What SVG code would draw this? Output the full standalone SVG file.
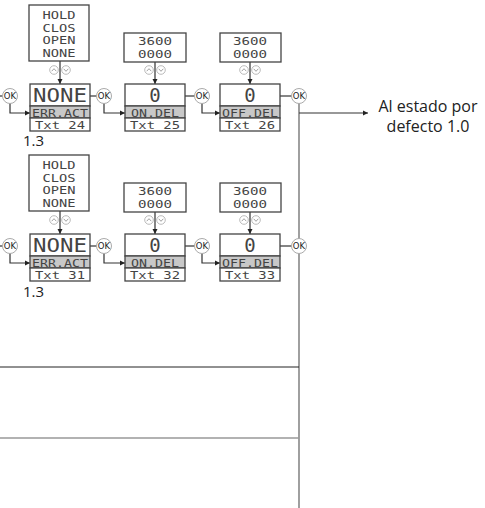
<svg xmlns="http://www.w3.org/2000/svg" width="485" height="508" viewBox="0 0 485 508">
<defs>
<marker id="ah" markerWidth="6" markerHeight="6" refX="5" refY="3" orient="auto" markerUnits="userSpaceOnUse">
<path d="M0,0.5 L5,3 L0,5.5 Z" fill="#222"/>
</marker>
<g id="updn">
<circle cx="-6" cy="0" r="4.3" fill="#fff" stroke="#aaa" stroke-width="0.8"/>
<path d="M-8.3,1.2 L-6,-1.3 L-3.7,1.2" fill="none" stroke="#888" stroke-width="0.8"/>
<circle cx="6" cy="0" r="4.3" fill="#fff" stroke="#aaa" stroke-width="0.8"/>
<path d="M3.7,-1.2 L6,1.3 L8.3,-1.2" fill="none" stroke="#888" stroke-width="0.8"/>
</g>
</defs>
<style>
.bx{fill:#fff;stroke:#444;stroke-width:1.3}
.band{fill:#c8c8c8;stroke:#444;stroke-width:1.3}
.lcd{font-family:"DejaVu Sans Mono",monospace;fill:#444;text-anchor:middle}
.big{font-size:19px}
.sm{font-size:10.5px}
.lbl{font-size:10.5px}
.ok{fill:#fff;stroke:#aaa;stroke-width:1}
.okt{font-family:"DejaVu Sans",sans-serif;font-size:8.5px;fill:#222;text-anchor:middle}
.ln{fill:none;stroke:#333;stroke-width:1.2}
.gl{fill:none;stroke:#888;stroke-width:1.6}
.txt{font-family:"Open Sans","DejaVu Sans",sans-serif;fill:#222}
</style>
<g id="connectors">
<path class="gl" d="M299,103 V508"/>
<path class="ln" d="M0,96 H3"/>
<path class="ln" d="M10,103 V113 H30" marker-end="url(#ah)"/>
<path class="ln" d="M90,96 H97"/>
<path class="ln" d="M104,103 V113 H125" marker-end="url(#ah)"/>
<path class="ln" d="M185,96 H195"/>
<path class="ln" d="M202,103 V113 H220" marker-end="url(#ah)"/>
<path class="ln" d="M280,96 H292"/>
<path class="ln" d="M299,113 H368" marker-end="url(#ah)"/>
<path class="ln" d="M0,246 H3"/>
<path class="ln" d="M10,253 V263 H30" marker-end="url(#ah)"/>
<path class="ln" d="M90,246 H97"/>
<path class="ln" d="M104,253 V263 H125" marker-end="url(#ah)"/>
<path class="ln" d="M185,246 H195"/>
<path class="ln" d="M202,253 V263 H220" marker-end="url(#ah)"/>
<path class="ln" d="M280,246 H292"/>
<path class="ln" d="M60,61 V84" marker-end="url(#ah)"/>
<path class="ln" d="M155,62 V84" marker-end="url(#ah)"/>
<path class="ln" d="M250,62 V84" marker-end="url(#ah)"/>
<path class="ln" d="M60,211 V234" marker-end="url(#ah)"/>
<path class="ln" d="M155,212 V234" marker-end="url(#ah)"/>
<path class="ln" d="M250,212 V234" marker-end="url(#ah)"/>
<path fill="none" stroke="#222" stroke-width="1" d="M0,367 H299"/>
<path fill="none" stroke="#999" stroke-width="1.5" d="M0,438 H299"/>
<use href="#updn" x="60" y="70"/>
<use href="#updn" x="155" y="70"/>
<use href="#updn" x="250" y="70"/>
<use href="#updn" x="60" y="220"/>
<use href="#updn" x="155" y="220"/>
<use href="#updn" x="250" y="220"/>
</g>
<g id="opt1">
<rect class="bx" x="29" y="5" width="60" height="56"/>
<text class="lcd sm" x="59" y="19" textLength="33" lengthAdjust="spacingAndGlyphs">HOLD</text>
<text class="lcd sm" x="59" y="31.5" textLength="33" lengthAdjust="spacingAndGlyphs">CLOS</text>
<text class="lcd sm" x="59" y="44" textLength="33" lengthAdjust="spacingAndGlyphs">OPEN</text>
<text class="lcd sm" x="59" y="56.5" textLength="33" lengthAdjust="spacingAndGlyphs">NONE</text>
</g>
<g id="opt2">
<rect class="bx" x="124" y="33" width="62" height="29"/>
<text class="lcd sm" x="155" y="45" textLength="34" lengthAdjust="spacingAndGlyphs">3600</text>
<text class="lcd sm" x="155" y="57.5" textLength="34" lengthAdjust="spacingAndGlyphs">0000</text>
</g>
<g id="opt3">
<rect class="bx" x="220" y="33" width="61" height="29"/>
<text class="lcd sm" x="250" y="45" textLength="34" lengthAdjust="spacingAndGlyphs">3600</text>
<text class="lcd sm" x="250" y="57.5" textLength="34" lengthAdjust="spacingAndGlyphs">0000</text>
</g>
<g id="box24">
<rect class="bx" x="30" y="84" width="60" height="22"/>
<rect class="band" x="30" y="106" width="60" height="12"/>
<rect class="bx" x="30" y="118" width="60" height="13"/>
<text class="lcd big" x="60" y="102" textLength="54" lengthAdjust="spacingAndGlyphs">NONE</text>
<text class="lcd lbl" x="60" y="116.5" textLength="56" lengthAdjust="spacingAndGlyphs">ERR.ACT</text>
<text class="lcd lbl" x="60" y="129" textLength="50" lengthAdjust="spacingAndGlyphs">Txt 24</text>
</g>
<g id="box25">
<rect class="bx" x="125" y="84" width="60" height="22"/>
<rect class="band" x="125" y="106" width="60" height="12"/>
<rect class="bx" x="125" y="118" width="60" height="13"/>
<text class="lcd big" x="155" y="102">0</text>
<text class="lcd lbl" x="155" y="116.5" textLength="48" lengthAdjust="spacingAndGlyphs">ON.DEL</text>
<text class="lcd lbl" x="155" y="129" textLength="50" lengthAdjust="spacingAndGlyphs">Txt 25</text>
</g>
<g id="box26">
<rect class="bx" x="220" y="84" width="60" height="22"/>
<rect class="band" x="220" y="106" width="60" height="12"/>
<rect class="bx" x="220" y="118" width="60" height="13"/>
<text class="lcd big" x="250" y="102">0</text>
<text class="lcd lbl" x="250" y="116.5" textLength="56" lengthAdjust="spacingAndGlyphs">OFF.DEL</text>
<text class="lcd lbl" x="250" y="129" textLength="50" lengthAdjust="spacingAndGlyphs">Txt 26</text>
</g>
<g id="opt4">
<rect class="bx" x="29" y="155" width="60" height="56"/>
<text class="lcd sm" x="59" y="169" textLength="33" lengthAdjust="spacingAndGlyphs">HOLD</text>
<text class="lcd sm" x="59" y="181.5" textLength="33" lengthAdjust="spacingAndGlyphs">CLOS</text>
<text class="lcd sm" x="59" y="194" textLength="33" lengthAdjust="spacingAndGlyphs">OPEN</text>
<text class="lcd sm" x="59" y="206.5" textLength="33" lengthAdjust="spacingAndGlyphs">NONE</text>
</g>
<g id="opt5">
<rect class="bx" x="124" y="183" width="62" height="29"/>
<text class="lcd sm" x="155" y="195" textLength="34" lengthAdjust="spacingAndGlyphs">3600</text>
<text class="lcd sm" x="155" y="207.5" textLength="34" lengthAdjust="spacingAndGlyphs">0000</text>
</g>
<g id="opt6">
<rect class="bx" x="220" y="183" width="61" height="29"/>
<text class="lcd sm" x="250" y="195" textLength="34" lengthAdjust="spacingAndGlyphs">3600</text>
<text class="lcd sm" x="250" y="207.5" textLength="34" lengthAdjust="spacingAndGlyphs">0000</text>
</g>
<g id="box31">
<rect class="bx" x="30" y="234" width="60" height="22"/>
<rect class="band" x="30" y="256" width="60" height="12"/>
<rect class="bx" x="30" y="268" width="60" height="13"/>
<text class="lcd big" x="60" y="252" textLength="54" lengthAdjust="spacingAndGlyphs">NONE</text>
<text class="lcd lbl" x="60" y="266.5" textLength="56" lengthAdjust="spacingAndGlyphs">ERR.ACT</text>
<text class="lcd lbl" x="60" y="279" textLength="50" lengthAdjust="spacingAndGlyphs">Txt 31</text>
</g>
<g id="box32">
<rect class="bx" x="125" y="234" width="60" height="22"/>
<rect class="band" x="125" y="256" width="60" height="12"/>
<rect class="bx" x="125" y="268" width="60" height="13"/>
<text class="lcd big" x="155" y="252">0</text>
<text class="lcd lbl" x="155" y="266.5" textLength="48" lengthAdjust="spacingAndGlyphs">ON.DEL</text>
<text class="lcd lbl" x="155" y="279" textLength="50" lengthAdjust="spacingAndGlyphs">Txt 32</text>
</g>
<g id="box33">
<rect class="bx" x="220" y="234" width="60" height="22"/>
<rect class="band" x="220" y="256" width="60" height="12"/>
<rect class="bx" x="220" y="268" width="60" height="13"/>
<text class="lcd big" x="250" y="252">0</text>
<text class="lcd lbl" x="250" y="266.5" textLength="56" lengthAdjust="spacingAndGlyphs">OFF.DEL</text>
<text class="lcd lbl" x="250" y="279" textLength="50" lengthAdjust="spacingAndGlyphs">Txt 33</text>
</g>
<g id="ok-buttons">
<circle class="ok" cx="10" cy="96" r="7.5"/><text class="okt" x="10" y="99">OK</text>
<circle class="ok" cx="104" cy="96" r="7.5"/><text class="okt" x="104" y="99">OK</text>
<circle class="ok" cx="202" cy="96" r="7.5"/><text class="okt" x="202" y="99">OK</text>
<circle class="ok" cx="299" cy="96" r="7.5"/><text class="okt" x="299" y="99">OK</text>
<circle class="ok" cx="10" cy="246" r="7.5"/><text class="okt" x="10" y="249">OK</text>
<circle class="ok" cx="104" cy="246" r="7.5"/><text class="okt" x="104" y="249">OK</text>
<circle class="ok" cx="202" cy="246" r="7.5"/><text class="okt" x="202" y="249">OK</text>
<circle class="ok" cx="299" cy="246" r="7.5"/><text class="okt" x="299" y="249">OK</text>
</g>
<g id="labels">
<text class="txt" x="23" y="146" font-size="15">1.3</text>
<text class="txt" x="23" y="297" font-size="15">1.3</text>
<text class="txt" x="428" y="112" font-size="16" text-anchor="middle">Al estado por</text>
<text class="txt" x="428" y="132" font-size="16" text-anchor="middle">defecto 1.0</text>
</g>
</svg>
